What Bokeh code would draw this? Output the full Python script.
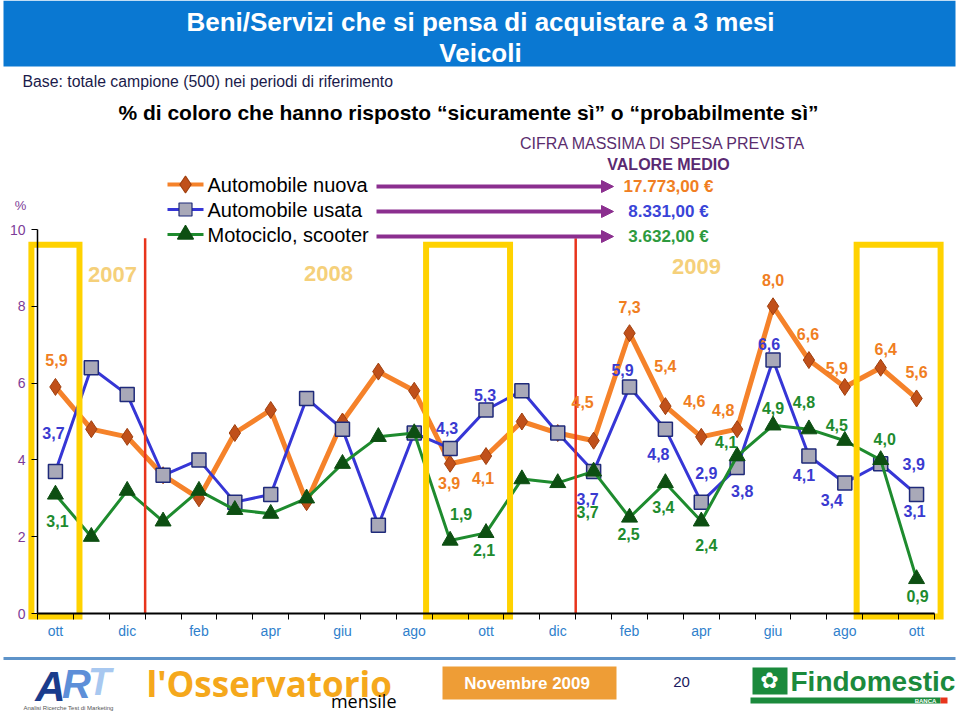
from bokeh.plotting import figure
from bokeh.models import Range1d, FixedTicker, LinearAxis, Arrow, NormalHead
from bokeh.core.properties import value
from bokeh.embed import file_html
from bokeh.resources import INLINE

# ---------------- data ----------------
months = ["ott", "nov", "dic", "gen", "feb", "mar", "apr", "mag", "giu", "lug", "ago", "set",
          "ott", "nov", "dic", "gen", "feb", "mar", "apr", "mag", "giu", "lug", "ago", "set", "ott"]
tick_labels = ["ott", "dic", "feb", "apr", "giu", "ago", "ott", "dic", "feb", "apr", "giu", "ago", "ott"]
auto_nuova = [5.9, 4.8, 4.6, 3.6, 3.0, 4.7, 5.3, 2.9, 5.0, 6.3, 5.8, 3.9, 4.1,
              5.0, 4.7, 4.5, 7.3, 5.4, 4.6, 4.8, 8.0, 6.6, 5.9, 6.4, 5.6]
auto_usata = [3.7, 6.4, 5.7, 3.6, 4.0, 2.9, 3.1, 5.6, 4.8, 2.3, 4.7, 4.3, 5.3,
              5.8, 4.7, 3.7, 5.9, 4.8, 2.9, 3.8, 6.6, 4.1, 3.4, 3.9, 3.1]
moto = [3.1, 2.0, 3.2, 2.4, 3.2, 2.7, 2.6, 3.0, 3.9, 4.6, 4.7, 1.9, 2.1,
        3.5, 3.4, 3.7, 2.5, 3.4, 2.4, 4.1, 4.9, 4.8, 4.5, 4.0, 0.9]
series_names = ["Automobile nuova", "Automobile usata", "Motociclo, scooter"]
spesa_media = ["17.773,00 €", "8.331,00 €", "3.632,00 €"]
years = ["2007", "2008", "2009"]
labeled_idx = [0, 11, 12, 15, 16, 17, 18, 19, 20, 21, 22, 23, 24]
highlight_spans = [(0, 0), (11, 12), (23, 24)]
year_breaks = [2.5, 14.5]

# ---------------- layout helpers (canvas pixel -> data) ----------------
PX = 35.88
PY = 38.4
def X(px):
    return -0.5 + (px - 37) / PX
def Y(py):
    return (613 - py) / PY

W, H = 957, 711
p = figure(width=W, height=H, output_backend="svg", toolbar_location=None,
           x_range=Range1d(X(0), X(W)), y_range=Range1d(Y(H), Y(0)),
           x_axis_type=None, y_axis_type=None, min_border=0,
           background_fill_color="white", border_fill_color="white", outline_line_color=None)
p.xgrid.visible = False
p.ygrid.visible = False

F = value("Liberation Sans")

def txt(px, py, s, size, color, font=F, style="normal", align="center", baseline="middle"):
    p.text(x=[X(px)], y=[Y(py)], text=[s], text_font=font, text_font_size=size,
           text_font_style=style, text_color=color, text_align=align, text_baseline=baseline)

# ---------------- header ----------------
p.quad(left=[X(3)], right=[X(955)], top=[Y(0)], bottom=[Y(66)], fill_color="#0A78D2", line_color=None)
txt(480, 21, "Beni/Servizi che si pensa di acquistare a 3 mesi", "26px", "white", F, "bold")
txt(480, 52, "Veicoli", "26px", "white", F, "bold")
txt(22, 81, "Base: totale campione (500) nei periodi di riferimento", "15.8px", "#1A1A4A", F, align="left")
txt(468, 112, "% di coloro che hanno risposto \u201csicuramente s\u00ec\u201d o \u201cprobabilmente s\u00ec\u201d",
    "21px", "black", F, "bold")

# ---------------- legend & spending ----------------
purple = "#8B2F8F"
leg_rows = [184, 209, 234]
line_cols = ["#F5822A", "#3636D6", "#1E8B2E"]
mk = [("diamond", 17, "#C0501A", "#A0400F"), ("square", 13, "#A9A9B8", "#1F2A7A"),
      ("triangle", 16, "#0D4F12", "#0D4F12")]
val_cols = ["#F07E22", "#3A44D8", "#2E9A3E"]
for i, name in enumerate(series_names):
    ry = leg_rows[i]
    p.line(x=[X(167), X(203)], y=[Y(ry), Y(ry)], line_color=line_cols[i], line_width=4 if i == 0 else 3)
    p.scatter(x=[X(185)], y=[Y(ry)], marker=mk[i][0], size=mk[i][1], fill_color=mk[i][2],
              line_color=mk[i][3], line_width=1.2)
    txt(207, ry, name, "20px", "black", F, align="left")
    p.add_layout(Arrow(end=NormalHead(size=12, fill_color=purple, line_color=purple),
                       x_start=X(376), y_start=Y(ry + 2), x_end=X(613), y_end=Y(ry + 2),
                       line_color=purple, line_width=4))
    txt(668, ry + 2, spesa_media[i], "17px", val_cols[i], F, "bold")
txt(663, 143, "CIFRA MASSIMA DI SPESA PREVISTA", "16px", "#5A2D6E", F)
txt(668, 164, "VALORE MEDIO", "16px", "#5A2A72", F, "bold")

# year labels
for s, (px, py) in zip(years, [(112, 274), (328, 273), (696, 266)]):
    txt(px, py, s, "22px", "#F5D07A", F, "bold")
txt(20, 205, "%", "13px", "#7D3C98", F)

# ---------------- series ----------------
xs = list(range(len(months)))
p.line(xs, auto_nuova, line_color="#F5822A", line_width=5)
p.scatter(xs, auto_nuova, marker="diamond", size=17, fill_color="#C0501A", line_color="#A0400F", line_width=1)
p.line(xs, auto_usata, line_color="#3636D6", line_width=3)
p.scatter(xs, auto_usata, marker="square", size=14, fill_color="#A9A9B8", line_color="#1F2A7A", line_width=1.5)
p.line(xs, moto, line_color="#1E8B2E", line_width=3)
p.scatter(xs, moto, marker="triangle", size=16, fill_color="#0D4F12", line_color="#0D4F12", line_width=1)

# highlight boxes and year separators
pad = 0.67
p.quad(left=[a - pad for a, b in highlight_spans], right=[b + pad for a, b in highlight_spans],
       top=[9.6] * 3, bottom=[-0.08] * 3, fill_color=None, line_color="#FFD200",
       line_width=6, line_join="miter")
p.segment(x0=year_breaks, y0=[0, 0], x1=year_breaks, y1=[9.77, 9.77], line_color="#E8341C", line_width=2.5)

# ---------------- data labels ----------------
offsets = {
    "nuova": [(1, -27), (-1, 19), (-3, 22), (-11, -39), (0, -26), (0, -40), (-7, -36), (-14, -19),
              (0, -26), (-1, -26), (-8, -19), (5, -19), (0, -26)],
    "usata": [(-2, -38), (-3, -20), (-1, -15), (-6, 28), (-7, -17), (-7, 25), (5, -29), (5, 23),
              (-4, -16), (-5, 19), (-13, 17), (33, 0), (-2, 17)],
    "moto": [(2, 27), (11, -27), (-2, 17), (-6, 41), (-1, 16), (-2, 24), (5, 24), (-11, -14),
             (0, -17), (-5, -27), (-8, -16), (4, -21), (1, 17)],
}
for key, vals, col in [("nuova", auto_nuova, "#F07E22"), ("usata", auto_usata, "#3A3AD0"),
                       ("moto", moto, "#1E8B2E")]:
    p.text(x=[xs[i] for i in labeled_idx], y=[vals[i] for i in labeled_idx],
           text=[f"{vals[i]:.1f}".replace(".", ",") for i in labeled_idx],
           x_offset=[o[0] for o in offsets[key]], y_offset=[o[1] for o in offsets[key]],
           text_font=F, text_font_size="16px", text_font_style="bold", text_color=col,
           text_align="center", text_baseline="middle")

# ---------------- axes ----------------
xaxis = LinearAxis(ticker=FixedTicker(ticks=list(range(0, 25, 2)),
                                      minor_ticks=[i - 0.5 for i in range(26)]),
                   fixed_location=0, bounds=(-0.5, 24.5))
xaxis.major_label_overrides = {i * 2: lab for i, lab in enumerate(tick_labels)}
xaxis.axis_line_color = "black"
xaxis.axis_line_width = 2
xaxis.major_tick_line_color = None
xaxis.major_tick_out = 0
xaxis.major_tick_in = 0
xaxis.minor_tick_out = 6
xaxis.minor_tick_in = 0
xaxis.minor_tick_line_color = "black"
xaxis.major_label_standoff = 3
xaxis.major_label_text_color = "#2F7FCC"
xaxis.major_label_text_font = "Liberation Sans"
xaxis.major_label_text_font_size = "14px"
p.add_layout(xaxis, "below")

yaxis = LinearAxis(ticker=FixedTicker(ticks=[0, 2, 4, 6, 8, 10], minor_ticks=[]),
                   fixed_location=-0.5, bounds=(0, 10))
yaxis.axis_line_color = "black"
yaxis.axis_line_width = 1.5
yaxis.major_tick_out = 6
yaxis.major_tick_in = 0
yaxis.major_tick_line_color = "black"
yaxis.minor_tick_line_color = None
yaxis.major_label_standoff = 6
yaxis.major_label_text_color = "#7D3C98"
yaxis.major_label_text_font = "Liberation Sans"
yaxis.major_label_text_font_size = "14px"
p.add_layout(yaxis, "left")

# ---------------- footer ----------------
p.line(x=[X(3), X(955)], y=[Y(658), Y(658)], line_color="#5E93C9", line_width=3)
txt(50, 686, "A", "42px", "#1A3C8C", F, "bold italic")
txt(76, 683, "R", "40px", "#5D8FD8", F, "bold italic")
txt(99, 681, "T", "38px", "#A8C8F0", F, "bold italic")
txt(68, 707, "Analisi Ricerche Test di Marketing", "6px", "#555555", F)
txt(146, 683, "l'Osservatorio", "35px", "#F5A81C", value("Open Sans"), "bold", align="left")
txt(396, 700, "mensile", "18px", "black", value("Open Sans"), align="right")
p.quad(left=[X(442)], right=[X(616)], top=[Y(666)], bottom=[Y(699)], fill_color="#EE9D36", line_color=None)
txt(529, 683, "Novembre  2009", "17px", "white", F, "bold")
txt(681, 681, "20", "15px", "#1A1A5E", F)
p.quad(left=[X(752)], right=[X(787)], top=[Y(667)], bottom=[Y(694)], fill_color="#1B8A3C", line_color=None)
txt(769, 680, "\u273f", "22px", "white", value("DejaVu Sans"))
txt(790, 681, "Findomestic", "28px", "#1B8A3C", F, "bold", align="left")
p.quad(left=[X(750)], right=[X(940)], top=[Y(697)], bottom=[Y(703)], fill_color="#1B8A3C", line_color=None)
p.quad(left=[X(940)], right=[X(947)], top=[Y(697)], bottom=[Y(703)], fill_color="#E8341C", line_color=None)
txt(925, 700, "BANCA", "6px", "white", F, "bold")

open("out.html", "w").write(file_html(p, INLINE))
